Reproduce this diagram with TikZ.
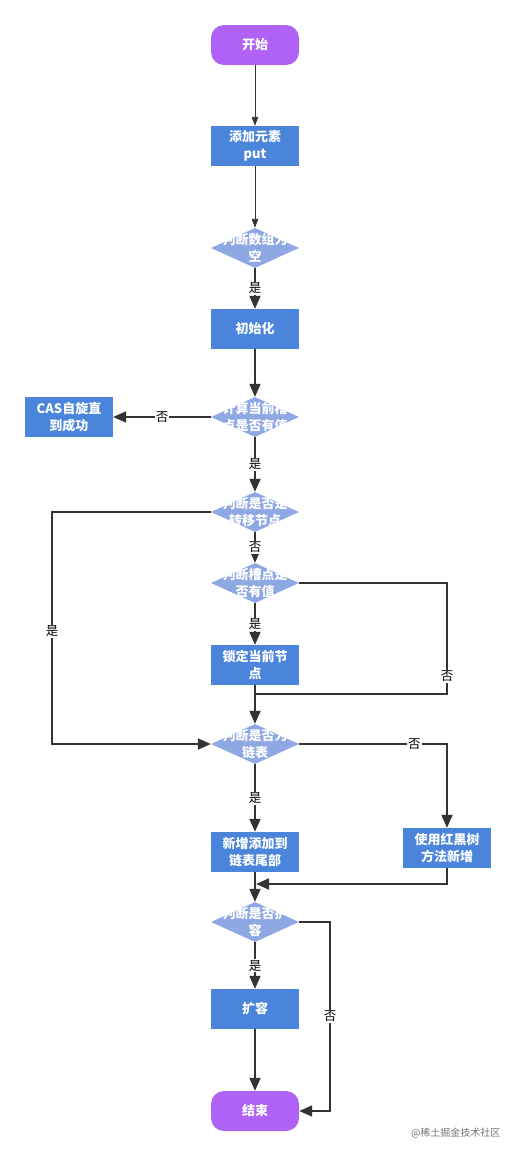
\documentclass[tikz,border=0pt]{standalone}
\usepackage{fontspec}
\setmainfont{Noto Sans CJK SC}
\usetikzlibrary{shapes.geometric,arrows.meta}
\definecolor{startc}{HTML}{B062F7}
\definecolor{boxc}{HTML}{4A85DB}
\definecolor{diac}{HTML}{8EA8E3}
\definecolor{linec}{HTML}{333333}
\tikzset{
  x=1pt,y=-1pt,
  every node/.style={font=\fontsize{13}{17.5}\selectfont\bfseries},
  term/.style={draw=none,fill=startc,rounded corners=13pt,minimum width=88pt,minimum height=40pt,text=white,align=center,inner sep=0pt},
  proc/.style={draw=none,fill=boxc,minimum width=88pt,minimum height=40pt,text=white,align=center,inner sep=0pt},
  dec/.style={diamond,draw=none,fill=diac,minimum width=88pt,minimum height=40pt,inner sep=0pt,
     label={[text=white,align=center,font=\fontsize{13}{17.5}\selectfont\bfseries]center:#1}},
  thin arrow/.style={draw=linec,line width=0.9pt,-{Triangle[width=6.5pt,length=9pt]}},
  thick arrow/.style={draw=linec,line width=1.8pt,-{Triangle[width=11pt,length=13pt]}},
  thick line/.style={draw=linec,line width=1.8pt},
  lab/.style={fill=white,text=black,inner sep=1pt,font=\fontsize{12.5}{14}\selectfont},
}
\begin{document}
\begin{tikzpicture}
\useasboundingbox (0,0) rectangle (519,1157);
\node[term] (start) at (255,45) {开始};
\node[proc] (put) at (255,146) {添加元素\\put};
\node[dec={判断数组为\\空}] (d1) at (255,248) {};
\node[proc] (init) at (255,329) {初始化};
\node[dec={计算当前槽\\点是否有值}] (d2) at (255,417) {};
\node[proc] (cas) at (69,417) {CAS自旋直\\到成功};
\node[dec={判断是否是\\转移节点}] (d3) at (255,512) {};
\node[dec={判断槽点是\\否有值}] (d4) at (255,583) {};
\node[proc] (lock) at (255,665) {锁定当前节\\点};
\node[dec={判断是否为\\链表}] (d5) at (255,744) {};
\node[proc] (tail) at (255,852) {新增添加到\\链表尾部};
\node[proc] (rbt) at (447,848) {使用红黑树\\方法新增};
\node[dec={判断是否扩\\容}] (d6) at (255,922) {};
\node[proc] (exp) at (255,1009) {扩容};
\node[term] (end) at (255,1111) {结束};
\node[text=black!55,font=\fontsize{10}{12}\selectfont,anchor=east] (wm) at (504,1133) {@稀土掘金技术社区};

\coordinate (j1) at (255,694);
\coordinate (j2) at (256,884);

\draw[thin arrow] (start) -- (put);
\draw[thin arrow] (put) -- (d1);
\draw[thick arrow] (d1) -- node[lab] {是} (init);
\draw[thick arrow] (init) -- (d2);
\draw[thick arrow] (d2) -- node[lab] {否} (cas);
\draw[thick arrow] (d2) -- node[lab] {是} (d3);
\draw[thick arrow] (d3.west) -- (52,512) -- node[lab,pos=0.515] {是} (52,744) -- (d5.west);
\draw[thick arrow] (d3) -- node[lab] {否} (d4);
\draw[thick arrow] (d4) -- node[lab] {是} (lock);
\draw[thick line] (d4.east) -- (447,583) -- node[lab,pos=0.84] {否} (447,694) -- (j1);
\draw[thick arrow] (lock) -- (d5);
\draw[thick arrow] (d5.east) -- node[lab,pos=0.78] {否} (447,744) -- (rbt.north);
\draw[thick arrow] (d5) -- node[lab] {是} (tail);
\draw[thick arrow] (tail) -- (d6);
\draw[thick arrow] (rbt.south) -- (447,884) -- (j2);
\draw[thick arrow] (d6) -- node[lab] {是} (exp);
\draw[thick arrow] (exp) -- (end);
\draw[thick arrow] (d6.east) -- (330,922) -- node[lab,pos=0.5] {否} (330,1111) -- (end.east);
\end{tikzpicture}
\end{document}
